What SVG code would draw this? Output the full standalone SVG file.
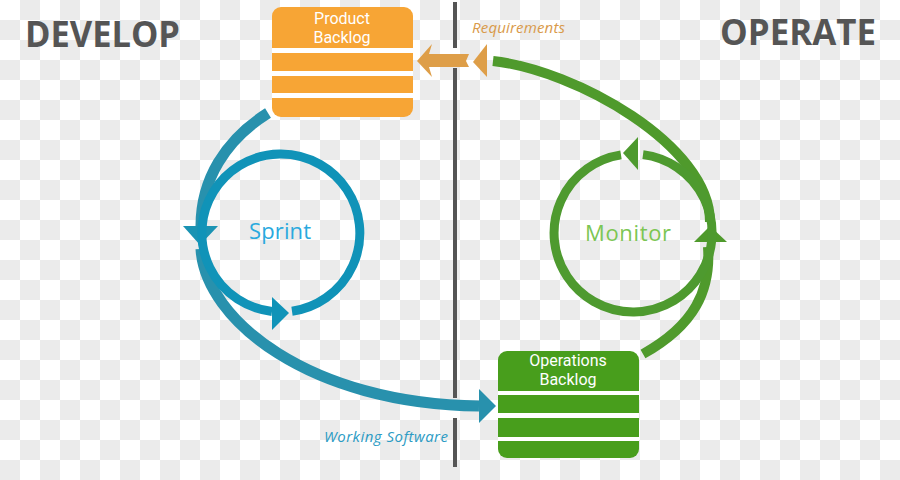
<svg xmlns="http://www.w3.org/2000/svg" width="900" height="480" viewBox="0 0 900 480">
<defs>
<pattern id="chk" width="40" height="40" patternUnits="userSpaceOnUse">
<rect width="40" height="40" fill="#ffffff"/>
<rect x="20" y="0" width="20" height="20" fill="#ebebeb"/>
<rect x="0" y="20" width="20" height="20" fill="#ebebeb"/>
</pattern>
<style>
.title{font-family:"Open Sans","Noto Sans","Liberation Sans",sans-serif;font-weight:bold;font-size:35px;fill:#555555}
.boxtxt{font-family:Roboto,"Liberation Sans",sans-serif;font-size:16px;fill:#ffffff;text-anchor:middle}
.lbl{font-family:"Open Sans","Noto Sans","Liberation Sans",sans-serif;font-size:15px;font-style:italic}
.cyc{font-family:"Open Sans","Noto Sans","Liberation Sans",sans-serif;font-size:22px}
.gap{fill:#ffffff}
.blueArc{fill:none;stroke:#2891ad;stroke-width:11}
.blueCirc{fill:none;stroke:#1093b8;stroke-width:9}
.greenArc{fill:none;stroke:#4f9a2c;stroke-width:10}
.greenCirc{fill:none;stroke:#4e9a2f;stroke-width:9}
</style>
</defs>
<rect width="900" height="480" fill="url(#chk)"/>

<g id="divider">
<rect x="453" y="2" width="4" height="46" fill="#555555"/>
<rect x="453" y="68" width="4" height="330" fill="#555555"/>
<rect x="453" y="418" width="4" height="49" fill="#555555"/>
</g>

<text class="title" x="25" y="47" textLength="155" lengthAdjust="spacingAndGlyphs">DEVELOP</text>
<text class="title" x="720" y="45" textLength="156" lengthAdjust="spacingAndGlyphs">OPERATE</text>

<g id="connectors">
<path class="blueArc" d="M268,113 C225,140 201,180 201,226"/>
<polygon points="183,226 218,226 200,245" fill="#1a93b3"/>
<path class="blueArc" d="M201,249 C205,320 310,404 479,406"/>
<polygon points="479,389 496,406 479,423" fill="#2891ad"/>
<path class="greenArc" d="M708,247 C711,290 695,325 643,354"/>
<polygon points="694,242 727,242 710,226" fill="#4f9a2c"/>
<path class="greenArc" d="M493,61 C575,70 710,145 710,222"/>
<polygon points="473,62 487,44 487,77" fill="#de9e48"/>
<polygon points="417,61 432,44 429,54 469,54 466,61 469,67 429,67 432,77" fill="#de9e48"/>
</g>

<g id="sprint">
<path class="blueCirc" d="M292,311.2 A79 79 0 1 0 272,311.5"/>
<polygon points="272,297 289,313 272,330" fill="#1093b8"/>
<text class="cyc" x="280" y="239" fill="#2aa9de" text-anchor="middle" textLength="62">Sprint</text>
</g>

<g id="monitor">
<path class="greenCirc" d="M643,154.6 A79 79 0 1 1 621,154.9"/>
<polygon points="623,153 638,137 638,170" fill="#4e9a2f"/>
<text class="cyc" x="628" y="241" fill="#7cc653" text-anchor="middle" textLength="86">Monitor</text>
</g>

<g id="product-backlog">
<rect x="272" y="7" width="141" height="110" rx="9" fill="#f7a535"/>
<rect class="gap" x="272" y="48" width="141" height="5"/>
<rect class="gap" x="272" y="71" width="141" height="5"/>
<rect class="gap" x="272" y="93" width="141" height="5"/>
<text class="boxtxt" x="342" y="24">Product</text>
<text class="boxtxt" x="342" y="43">Backlog</text>
</g>

<g id="operations-backlog">
<rect x="498" y="351" width="141" height="107" rx="9" fill="#489e1c"/>
<rect class="gap" x="498" y="391" width="141" height="4"/>
<rect class="gap" x="498" y="413" width="141" height="5"/>
<rect class="gap" x="498" y="437" width="141" height="4"/>
<text class="boxtxt" x="568" y="366">Operations</text>
<text class="boxtxt" x="568" y="385">Backlog</text>
</g>

<text class="lbl" x="472" y="33" fill="#d99a4a" textLength="93">Requirements</text>
<text class="lbl" x="324" y="442" fill="#2b9bc4" textLength="124">Working Software</text>
</svg>
